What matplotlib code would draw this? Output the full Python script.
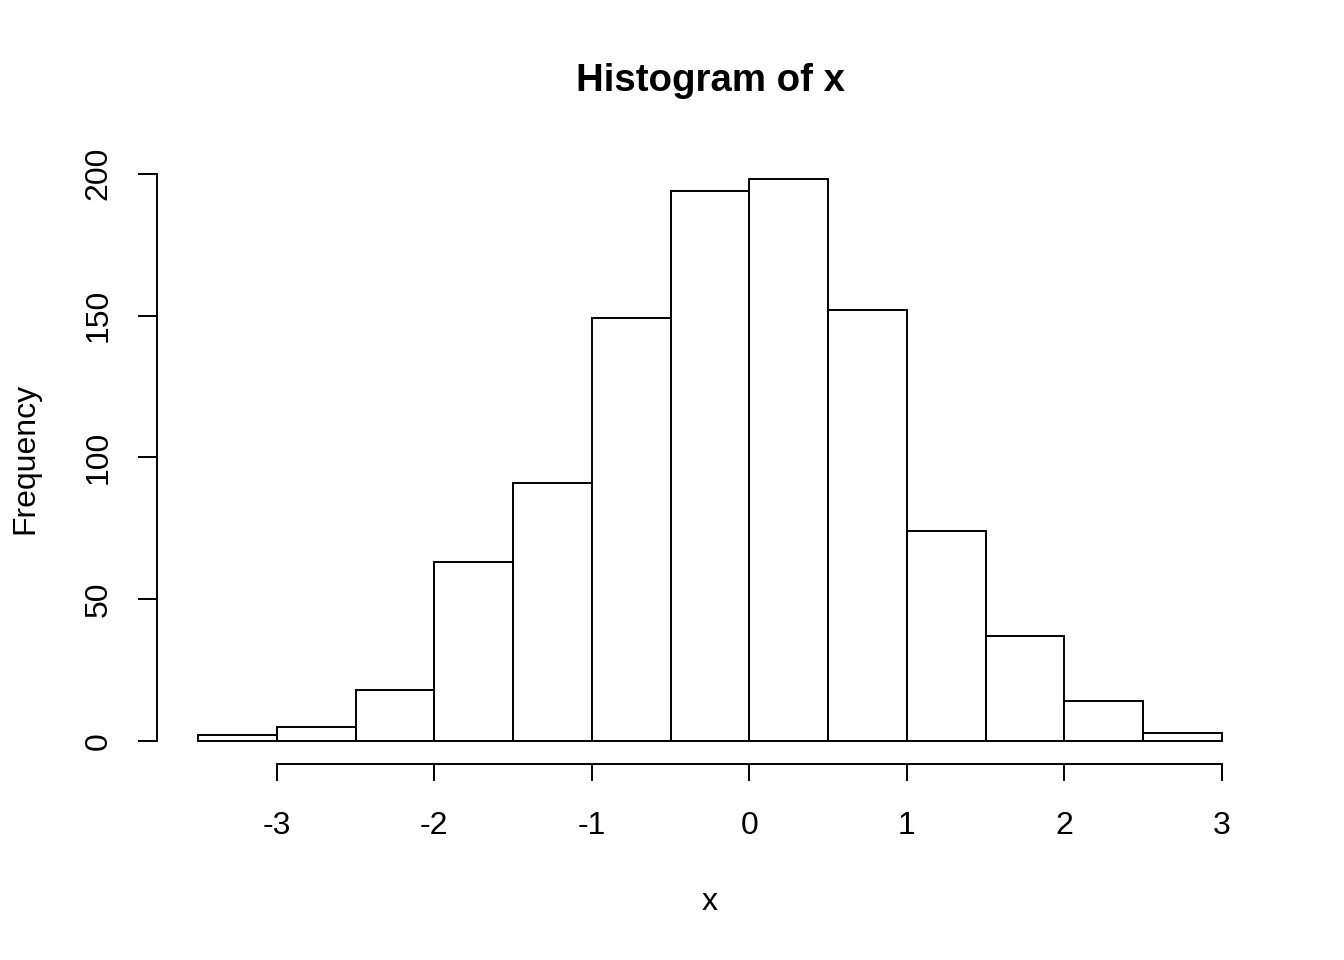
import matplotlib
matplotlib.use("Agg")
import matplotlib.pyplot as plt
import numpy as np

plt.rcParams['font.family'] = ['Liberation Sans', 'DejaVu Sans']

bin_edges = [-3.5, -3.0, -2.5, -2.0, -1.5, -1.0, -0.5, 0.0, 0.5, 1.0, 1.5, 2.0, 2.5, 3.0]
counts = [2, 5, 18, 63, 91, 149, 194, 198, 152, 74, 37, 14, 3]
x_ticks = [-3, -2, -1, 0, 1, 2, 3]
y_ticks = [0, 50, 100, 150, 200]

W, H = 1344, 960
fig = plt.figure(figsize=(W / 100, H / 100), dpi=100)
left, right, top, bottom = 157, 1263, 157, 763.5
ax = fig.add_axes([left / W, 1 - bottom / H, (right - left) / W, (bottom - top) / H])

edges = np.array(bin_edges)
ax.bar(edges[:-1], counts, width=np.diff(edges), align='edge',
       facecolor='white', edgecolor='black', linewidth=1.4)

xr = edges[-1] - edges[0]
ax.set_xlim(edges[0] - 0.04 * xr, edges[-1] + 0.04 * xr)
ym = max(counts)
ax.set_ylim(-0.04 * ym, ym * 1.04)

for s in ['top', 'right']:
    ax.spines[s].set_visible(False)
ax.spines['left'].set_bounds(y_ticks[0], y_ticks[-1])
ax.spines['bottom'].set_bounds(x_ticks[0], x_ticks[-1])
for s in ['left', 'bottom']:
    ax.spines[s].set_linewidth(1.4)

ax.set_xticks(x_ticks)
ax.set_xticklabels([str(v) for v in x_ticks])
ax.set_yticks(y_ticks)
ax.set_yticklabels([str(v) for v in y_ticks], rotation=90, va='center')
ax.tick_params(axis='x', length=12.5, width=1.4, pad=21.5, labelsize=23)
ax.tick_params(axis='y', length=13.5, width=1.4, pad=18, labelsize=23)

fig.text(710 / W, 1 - 81 / H, 'Histogram of x', ha='center', va='center',
         fontsize=27.6, fontweight='bold')
fig.text(710 / W, 1 - 910 / H, 'x', ha='center', va='baseline', fontsize=23)
fig.text(25 / W, 1 - 458 / H, 'Frequency', ha='center', va='center',
         rotation=90, fontsize=23)

fig.savefig('out.png', dpi=100)
